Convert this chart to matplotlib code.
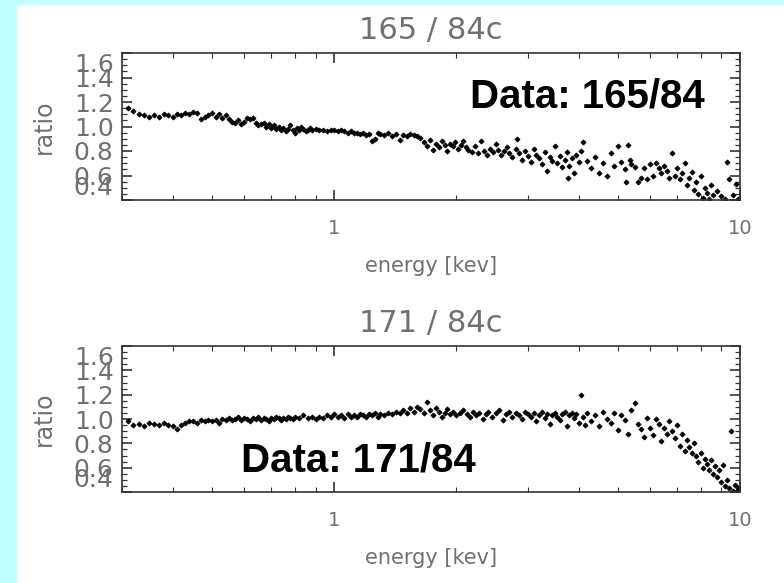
import matplotlib
matplotlib.use("Agg")
import matplotlib.pyplot as plt
from matplotlib.patches import Rectangle
from matplotlib.ticker import MultipleLocator, LogLocator, FixedLocator, FixedFormatter, NullFormatter

# ---------------- data ----------------
titles = ["165 / 84c", "171 / 84c"]
annotations = ["Data: 165/84", "Data: 171/84"]
xlabel = "energy [kev]"
ylabel = "ratio"
x_ticks = [1, 10]
x_ticklabels = ["1", "10"]
y_ticks = [0.4, 0.6, 0.8, 1.0, 1.2, 1.4, 1.6]
y_ticklabels = ["0.4", "0.6", "0.8", "1.0", "1.2", "1.4", "1.6"]

energy_165 = [
    0.31, 0.32, 0.33, 0.34, 0.35, 0.36, 0.37, 0.38, 0.39, 0.40, 0.41, 0.42, 0.43,
    0.44, 0.45, 0.46, 0.47, 0.48, 0.49, 0.50, 0.51, 0.52, 0.53, 0.54, 0.55, 0.56,
    0.57, 0.58, 0.59, 0.60, 0.61, 0.62, 0.63, 0.64, 0.65, 0.66, 0.67, 0.68, 0.69,
    0.70, 0.71, 0.72, 0.73, 0.74, 0.75, 0.76, 0.77, 0.78, 0.79, 0.80, 0.81, 0.82,
    0.83, 0.84, 0.85, 0.86, 0.87, 0.88, 0.90, 0.92, 0.94, 0.96, 0.98,
    1.00, 1.02, 1.04, 1.06, 1.08, 1.10, 1.12, 1.14, 1.16, 1.18, 1.20, 1.22, 1.24,
    1.26, 1.28, 1.30, 1.33, 1.36, 1.39, 1.42, 1.45, 1.48, 1.51, 1.54, 1.57, 1.60, 1.63,
    1.66, 1.69, 1.72, 1.75, 1.78, 1.81, 1.84, 1.87, 1.90, 1.93, 1.96, 1.99, 2.02,
    2.05, 2.08, 2.11, 2.14, 2.18, 2.22, 2.26, 2.30, 2.34, 2.38, 2.42, 2.46, 2.50,
    2.54, 2.58, 2.62, 2.66, 2.70, 2.75, 2.80, 2.82,
    2.85, 2.90, 2.95, 3.00, 3.05, 3.10, 3.15, 3.20, 3.25, 3.30, 3.35, 3.40, 3.45,
    3.50, 3.55, 3.60, 3.65, 3.70, 3.75, 3.77, 3.80, 3.85, 3.90, 3.95, 4.00,
    4.05, 4.10, 4.20, 4.30, 4.40, 4.50, 4.60, 4.70, 4.80, 4.90, 5.00, 5.10, 5.20,
    5.25, 5.30, 5.35, 5.40, 5.50,
    5.60, 5.70, 5.80, 5.90, 6.00, 6.10, 6.20, 6.30, 6.40, 6.50, 6.60, 6.70, 6.80,
    6.90, 7.00, 7.10, 7.20,
    7.30, 7.40, 7.50, 7.60, 7.70, 7.80, 7.90, 8.00, 8.10, 8.20, 8.30, 8.40, 8.50,
    8.60, 8.80, 9.00, 9.20, 9.30, 9.40, 9.60, 9.80, 9.90,
]
ratio_165 = [
    1.15, 1.13, 1.10, 1.09, 1.08, 1.09, 1.08, 1.10, 1.09, 1.08, 1.10, 1.09, 1.11,
    1.10, 1.12, 1.11, 1.06, 1.08, 1.09, 1.11, 1.08, 1.10, 1.07, 1.09, 1.06, 1.04,
    1.03, 1.05, 1.02, 1.04, 1.07, 1.06, 1.07, 1.03, 1.01, 1.02, 1.03, 1.00, 1.02,
    0.99, 1.01, 0.98, 1.00, 0.97, 0.99, 0.96, 0.98, 1.01, 0.97, 0.95, 0.99, 0.97,
    1.00, 0.98, 0.96, 0.97, 0.99, 0.97, 0.98, 0.97, 0.97, 0.96, 0.97,
    0.97, 0.96, 0.97, 0.96, 0.95, 0.96, 0.95, 0.95, 0.94, 0.95, 0.93, 0.94, 0.88,
    0.90, 0.95, 0.94, 0.93, 0.95, 0.92, 0.94, 0.89, 0.93, 0.92, 0.94, 0.93, 0.92, 0.91,
    0.87, 0.84, 0.89, 0.81, 0.86, 0.83, 0.88, 0.85, 0.80, 0.86, 0.84, 0.87, 0.82,
    0.85, 0.88, 0.83, 0.81, 0.79, 0.84, 0.78, 0.88, 0.80, 0.77, 0.82, 0.79, 0.86,
    0.81, 0.77, 0.80, 0.83, 0.78, 0.75, 0.82, 0.90,
    0.78, 0.73, 0.80, 0.76, 0.71, 0.82, 0.77, 0.74, 0.69, 0.79, 0.64, 0.75, 0.72,
    0.84, 0.70, 0.76, 0.67, 0.73, 0.79, 0.58, 0.68, 0.74, 0.62, 0.77, 0.71,
    0.80, 0.87, 0.72, 0.66, 0.75, 0.62, 0.70, 0.60, 0.78, 0.68, 0.84, 0.71, 0.65,
    0.55, 0.85, 0.73, 0.69, 0.67,
    0.55, 0.58, 0.66, 0.57, 0.69, 0.60, 0.70, 0.66, 0.62, 0.68, 0.64, 0.58, 0.78,
    0.60, 0.66, 0.57, 0.62,
    0.70, 0.52, 0.58, 0.63, 0.48, 0.55, 0.45, 0.60, 0.42, 0.50, 0.46, 0.41, 0.52,
    0.44, 0.47, 0.43, 0.41, 0.71, 0.57, 0.44, 0.53, 0.41,
]

energy_171 = [
    0.31, 0.32, 0.33, 0.34, 0.35, 0.36, 0.37, 0.38, 0.39, 0.40, 0.41, 0.42,
    0.43, 0.44, 0.45, 0.46, 0.47, 0.48, 0.49, 0.50, 0.51, 0.52, 0.53, 0.54, 0.55,
    0.56, 0.57, 0.58, 0.59, 0.60, 0.61, 0.62, 0.63, 0.64, 0.65, 0.66, 0.67, 0.68,
    0.69, 0.70, 0.71, 0.72, 0.73, 0.74, 0.75, 0.76, 0.77, 0.78, 0.79, 0.80, 0.82,
    0.84, 0.86, 0.88, 0.90,
    0.92, 0.94, 0.96, 0.98, 1.00, 1.02, 1.04, 1.06, 1.08, 1.10, 1.12, 1.14, 1.16,
    1.18, 1.20, 1.22, 1.24, 1.26, 1.28, 1.30, 1.33, 1.36, 1.39, 1.42, 1.45,
    1.48, 1.51, 1.54, 1.57, 1.60, 1.63, 1.66, 1.69, 1.72, 1.75, 1.78, 1.81, 1.84,
    1.87, 1.90, 1.93, 1.96, 2.00, 2.04, 2.08, 2.12, 2.16, 2.20, 2.24, 2.28, 2.32,
    2.36, 2.40, 2.45, 2.50,
    2.55, 2.60, 2.65, 2.70, 2.75, 2.80, 2.85, 2.90, 2.95, 3.00, 3.05, 3.10, 3.15,
    3.20, 3.25, 3.30, 3.35, 3.40, 3.45, 3.50, 3.55, 3.60, 3.65, 3.70, 3.75, 3.80,
    3.85, 3.90,
    3.95, 4.00, 4.05, 4.10, 4.15, 4.20, 4.30, 4.40, 4.50, 4.60, 4.70, 4.80, 4.90,
    5.00, 5.10, 5.20, 5.30, 5.40, 5.50, 5.60,
    5.70, 5.80, 5.90, 6.00, 6.10, 6.20, 6.30, 6.40, 6.50, 6.60, 6.70, 6.80, 6.90,
    7.00, 7.10, 7.20, 7.30, 7.40, 7.50, 7.60, 7.70, 7.80,
    7.90, 8.00, 8.10, 8.20, 8.30, 8.40, 8.50, 8.60, 8.70, 8.80, 8.90, 9.00, 9.10,
    9.20, 9.30, 9.40, 9.50, 9.60, 9.70, 9.80, 9.90,
]
ratio_171 = [
    0.98, 0.95, 0.96, 0.94, 0.97, 0.96, 0.95, 0.97, 0.95, 0.94, 0.92, 0.95,
    0.97, 0.98, 0.98, 0.97, 0.99, 0.98, 0.99, 0.98, 0.99, 0.97, 1.00, 0.99, 1.01,
    0.99, 1.00, 1.02, 0.99, 1.01, 1.00, 0.98, 1.01, 1.00, 1.02, 0.99, 1.01, 1.00,
    0.98, 1.01, 1.00, 1.02, 1.01, 0.99, 1.01, 1.00, 1.02, 1.01, 1.00, 1.02, 1.01,
    1.03, 1.01, 1.02, 1.00,
    1.02, 1.01, 1.03, 1.02, 1.04, 1.02, 1.03, 1.01, 1.04, 1.02, 1.03, 1.02, 1.04,
    1.03, 1.02, 1.04, 1.03, 1.05, 1.02, 1.04, 1.03, 1.05, 1.04, 1.06, 1.05,
    1.07, 1.05, 1.09, 1.06, 1.10, 1.08, 1.05, 1.14, 1.07, 1.03, 1.09, 1.06, 1.02,
    1.05, 1.08, 1.04, 1.06, 1.03, 1.05, 1.07, 1.04, 1.02, 1.06, 1.03, 1.05, 1.00,
    1.04, 1.06, 1.02, 1.05,
    1.07, 0.99, 1.04, 1.06, 1.02, 1.05, 1.03, 1.00, 1.06, 1.04, 1.02, 1.05, 0.98,
    1.03, 1.06, 1.01, 1.04, 0.96, 1.03, 1.05, 1.02, 0.99, 1.04, 1.06, 0.94, 1.03,
    1.05, 1.01,
    1.04, 0.97, 1.20, 1.02, 0.95, 1.05, 0.98, 1.03, 0.94, 1.06, 1.00, 0.97, 1.05,
    0.91, 1.03, 0.99, 0.88, 1.07, 1.13, 0.96,
    0.92, 0.85, 1.01, 0.93, 0.87, 1.00, 0.96, 0.82, 0.93, 0.88, 0.98, 0.90, 0.84,
    0.95, 0.78, 0.88, 0.74, 0.83, 0.77, 0.72, 0.80, 0.70,
    0.65, 0.72, 0.60, 0.67, 0.63, 0.58, 0.66, 0.55, 0.61, 0.52, 0.58, 0.48, 0.62,
    0.45, 0.50, 0.43, 0.90, 0.41, 0.46, 0.40, 0.43,
]

energies = [energy_165, energy_171]
ratios = [ratio_165, ratio_171]

# ---------------- figure ----------------
W, H = 784, 583
fig = plt.figure(figsize=(W / 100, H / 100), dpi=100)
fig.patch.set_facecolor("#c2ffff")
fig.patches.append(Rectangle((17 / W, 0), 1 - 17 / W, 1 - 5 / H,
                             transform=fig.transFigure, facecolor="white",
                             edgecolor="none", zorder=-10))

gray = "#707070"
ax_rects = [
    (122 / W, 1 - 200 / H, 618 / W, 147 / H),
    (122 / W, 1 - 492 / H, 618 / W, 146 / H),
]
ann_pos = [((468 + 707) / 2 / W, 1 - 107 / H), ((235 + 481) / 2 / W, 1 - 471 / H)]

for i in range(2):
    ax = fig.add_axes(ax_rects[i])
    ax.set_facecolor("none")
    ax.plot(energies[i], ratios[i], linestyle="none", marker="D",
            markersize=2.6, color="black", markeredgewidth=0.6)
    ax.set_xscale("log")
    ax.set_xlim(0.3, 10)
    ax.set_ylim(0.4, 1.6)

    ax.xaxis.set_major_locator(FixedLocator(x_ticks))
    ax.xaxis.set_major_formatter(FixedFormatter(x_ticklabels))
    ax.xaxis.set_minor_locator(LogLocator(base=10, subs=range(2, 10)))
    ax.xaxis.set_minor_formatter(NullFormatter())
    ax.yaxis.set_major_locator(FixedLocator(y_ticks))
    ax.yaxis.set_major_formatter(FixedFormatter(y_ticklabels))
    ax.yaxis.set_minor_locator(MultipleLocator(0.05))

    ax.tick_params(which="both", direction="in", top=True, right=True,
                   color="#333333")
    ax.tick_params(axis="y", which="major", length=7, width=1.2,
                   labelsize=18, labelcolor=gray, pad=6)
    ax.tick_params(axis="y", which="minor", length=3.5, width=0.9)
    ax.tick_params(axis="x", which="major", length=7, width=1.2,
                   labelsize=14, labelcolor=gray, pad=14)
    ax.tick_params(axis="x", which="minor", length=3.5, width=0.8)

    labels = ax.get_yticklabels()
    labels[0].set_verticalalignment("bottom")
    labels[-1].set_verticalalignment("top")

    for s in ax.spines.values():
        s.set_color("#333333")
        s.set_linewidth(1.2)

    ax.set_title(titles[i], fontsize=22, color=gray, pad=10)
    ax.set_xlabel(xlabel, fontsize=15, color=gray, labelpad=13)
    ax.set_ylabel(ylabel, fontsize=17, color=gray, labelpad=13)

    fig.text(ann_pos[i][0], ann_pos[i][1], annotations[i],
             fontsize=29, fontweight="bold", family="Liberation Sans",
             color="black", ha="center", va="baseline", zorder=5)

fig.savefig("out.png", dpi=100, facecolor=fig.get_facecolor())
